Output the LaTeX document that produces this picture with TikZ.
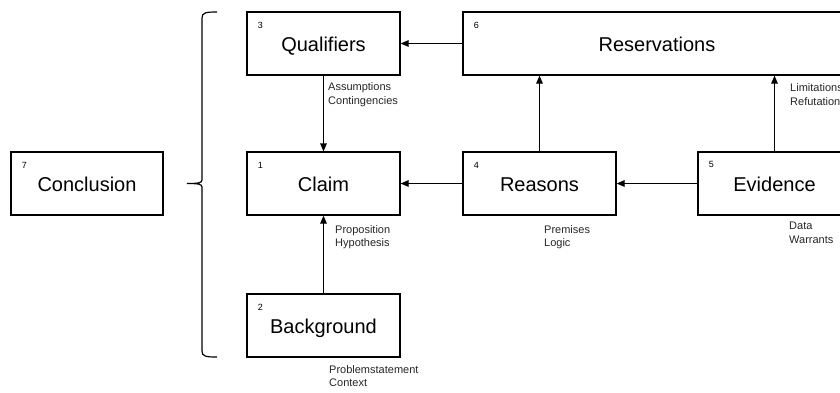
\documentclass[tikz,border=0pt]{standalone}
\usepackage{fontspec}
\setmainfont{Liberation Sans}
\usetikzlibrary{arrows.meta, calc}
\tikzset{
  myarr/.style  = {-{Triangle[length=8pt, width=6.5pt]}, line width=1.2pt},
  %% Box and text presets
  tbox/.style   = {draw=black, line width=1.2pt, minimum width=153pt, minimum height=63pt,
                   inner sep=0pt, text height=16pt, text depth=1pt,
                   font=\fontsize{20}{24}\selectfont},
  numtxt/.style = {inner sep=0pt, font=\fontsize{9}{10}\selectfont},
  lbl/.style    = {anchor=west, align=left, inner sep=0pt, text=black!85,
                   font=\fontsize{11}{13.5}\selectfont},
}

\begin{document}
\begin{tikzpicture}[x=1pt, y=-1pt]

\clip (0,0) rectangle (840,392);

%% ---- (7) Conclusion ----
\node[tbox, minimum width=152pt] (concl) at (87, 183.5) {Conclusion};
\node[numtxt] (conclnum) at ($(concl.north west)+(14,13.5)$) {7};

%% ---- Brace ----
\draw[line width=1.2pt]
  (217,12) .. controls (206,12) and (202,12.5) .. (202,18) -- (202,180)
  .. controls (202,183) and (198,183.5) .. (187,183.5)
  .. controls (198,183.5) and (202,184) .. (202,187) -- (202,351)
  .. controls (202,356.5) and (206,357) .. (217,357);

%% ---- (1)-(3) Left column ----
\node[tbox] (qual)   at (323.5,  43.5) {Qualifiers};
\node[tbox] (claim)  at (323.5, 183.5) {Claim};
\node[tbox] (backgr) at (323.5, 325.5) {Background};

\node[numtxt] (qualnum)   at ($(qual.north west)+(14,13.5)$)   {3};
\node[numtxt] (claimnum)  at ($(claim.north west)+(14,13.5)$)  {1};
\node[numtxt] (backgrnum) at ($(backgr.north west)+(14,13.5)$) {2};

%% ---- (4)-(6) Right part ----
\node[tbox, minimum width=388pt] (resv) at (657, 43.5) {Reservations};
\node[tbox] (reas) at (539.5, 183.5) {Reasons};
\node[tbox] (evid) at (774.5, 183.5) {Evidence};

\node[numtxt] (resvnum) at ($(resv.north west)+(14,13.5)$) {6};
\node[numtxt] (reasnum) at ($(reas.north west)+(14,13.5)$) {4};
\node[numtxt] (evidnum) at ($(evid.north west)+(14,13.5)$) {5};

%% ---- Connectors ----
\draw[myarr] (resv.west)    -- (qual.east);
\draw[myarr] (qual.south)   -- (claim.north);
\draw[myarr] (backgr.north) -- (claim.south);
\draw[myarr] (reas.west)    -- (claim.east);
\draw[myarr] (evid.west)    -- (reas.east);
\draw[myarr] (reas.north)   -- (reas.north |- resv.south);
\draw[myarr] (evid.north)   -- (evid.north |- resv.south);

%% ---- Small labels ----
\node[lbl] (qualtxt)   at (328, 94.5)  {Assumptions\\Contingencies};
\node[lbl] (claimtxt)  at (335, 237)   {Proposition\\Hypothesis};
\node[lbl] (backgrtxt) at (329, 376)   {Problemstatement\\Context};
\node[lbl] (reastxt)   at (544, 237)   {Premises\\Logic};
\node[lbl] (evidtxt)   at (789, 233)   {Data\\Warrants};
\node[lbl] (resvtxt)   at (790, 94.5)  {Limitations\\Refutations};

\end{tikzpicture}
\end{document}
